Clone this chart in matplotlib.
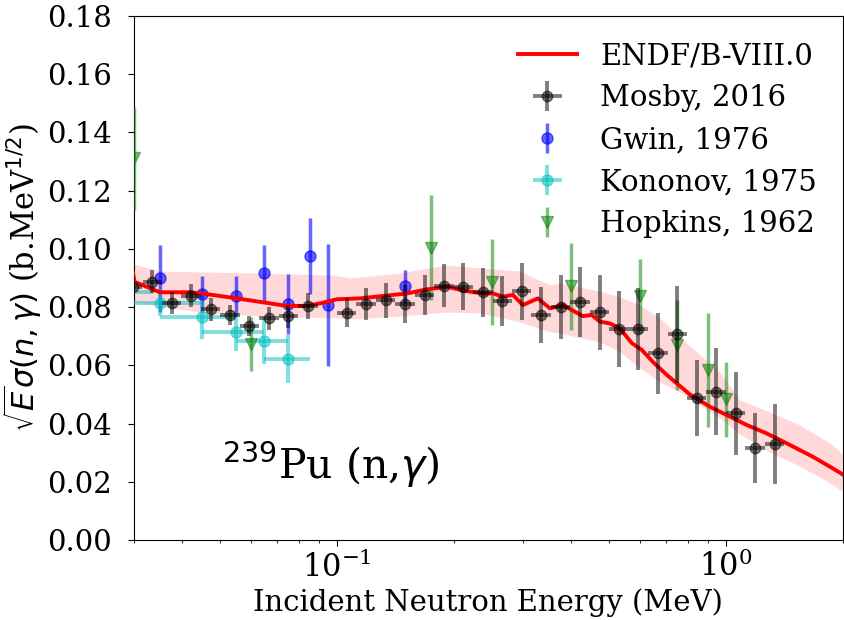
import matplotlib
matplotlib.use("Agg")
import matplotlib.pyplot as plt
import numpy as np

plt.rcParams.update(
    {
        "font.family": "DejaVu Serif",
        "font.size": 21,
        "xtick.labelsize": 22,
        "ytick.labelsize": 21,
        "legend.fontsize": 21,
    }
)

# ENDF/B-VIII.0 evaluation (sqrt(E) * sigma)
endf_energy = [0.0299, 0.03016, 0.03507, 0.04188, 0.04495, 0.0553, 0.07437, 0.08373,
               0.09203, 0.09998, 0.11455, 0.1513, 0.1702, 0.1917, 0.2133, 0.2372,
               0.2517, 0.2671, 0.2834, 0.3006, 0.3285, 0.3527, 0.3809, 0.4286,
               0.452, 0.4742, 0.5029, 0.5338, 0.5731, 0.6079, 0.649, 0.705,
               0.7478, 0.808, 0.9093, 1.0055, 1.1318, 1.2739, 1.4339, 1.6733,
               1.8834, 2.01]
endf_value = [0.0917, 0.0887, 0.0851, 0.0851, 0.0847, 0.0830, 0.0804, 0.0804,
              0.0815, 0.0827, 0.0830, 0.0847, 0.0861, 0.0870, 0.0856, 0.0847,
              0.0847, 0.0836, 0.0842, 0.0807, 0.0830, 0.0796, 0.0807, 0.0769,
              0.0773, 0.0750, 0.0744, 0.0727, 0.0676, 0.0653, 0.0612, 0.0567,
              0.0538, 0.0500, 0.0458, 0.0429, 0.0395, 0.0366, 0.0332, 0.0286,
              0.0246, 0.0223]

# uncertainty band
band_energy = [0.0299, 0.0351, 0.0444, 0.0634, 0.0988, 0.108, 0.1451, 0.1906,
               0.2331, 0.2954, 0.3527, 0.3742, 0.4742, 0.5338, 0.6009, 0.6763,
               0.7613, 0.857, 0.9649, 1.0861, 1.2972, 1.549, 1.85, 2.01]
band_upper = [0.0948, 0.0924, 0.0921, 0.0917, 0.0910, 0.0900, 0.0917, 0.0945,
              0.0934, 0.0924, 0.0876, 0.0883, 0.0855, 0.0835, 0.0807, 0.0763,
              0.0697, 0.0636, 0.0577, 0.0481, 0.0440, 0.0395, 0.0333, 0.0292]
band_lower = [0.0818, 0.0804, 0.0783, 0.0769, 0.0763, 0.0759, 0.0769, 0.0783,
              0.0780, 0.0749, 0.0715, 0.0711, 0.0680, 0.0646, 0.0591, 0.0543,
              0.0508, 0.0464, 0.0419, 0.0364, 0.0302, 0.0254, 0.0196, 0.0165]

# Mosby, 2016 (20 bins per decade)
mosby_energy = [0.02985, 0.0335, 0.03758, 0.04217, 0.04732, 0.05309, 0.05957, 0.06683,
                0.07499, 0.08414, 0.1059, 0.1189, 0.1334, 0.1496, 0.1679, 0.1884,
                0.2113, 0.2371, 0.2661, 0.2985, 0.335, 0.3758, 0.4217, 0.4732,
                0.5309, 0.5957, 0.6683, 0.7499, 0.8414, 0.9441, 1.0593, 1.1885,
                1.3335]
mosby_value = [0.0870, 0.0887, 0.0815, 0.0839, 0.0792, 0.0772, 0.0735, 0.0761,
               0.0769, 0.0804, 0.0781, 0.0811, 0.0824, 0.0811, 0.0842, 0.0874,
               0.0870, 0.0851, 0.0822, 0.0855, 0.0773, 0.0801, 0.0817, 0.0782,
               0.0725, 0.0725, 0.0641, 0.0707, 0.0487, 0.0509, 0.0435, 0.0317,
               0.0330]
mosby_error = [0.0040, 0.0040, 0.0038, 0.0040, 0.0038, 0.0035, 0.0035, 0.0040,
               0.0040, 0.0045, 0.0050, 0.0055, 0.0060, 0.0065, 0.0070, 0.0075,
               0.0080, 0.0084, 0.0086, 0.0098, 0.0096, 0.0110, 0.0120, 0.0128,
               0.0129, 0.0140, 0.0139, 0.0167, 0.0130, 0.0149, 0.0142, 0.0120,
               0.0136]
MOSBY_HALF_BIN_DECADES = 0.025

# Gwin, 1976
gwin_energy = [0.035, 0.045, 0.055, 0.065, 0.075, 0.085, 0.095, 0.15]
gwin_value = [0.0899, 0.0845, 0.0838, 0.0916, 0.0810, 0.0976, 0.0807, 0.0872]
gwin_error = [0.0115, 0.0062, 0.0070, 0.0097, 0.0103, 0.0130, 0.0210, 0.0057]

# Kononov, 1975
kononov_energy = [0.025, 0.035, 0.045, 0.055, 0.065, 0.075]
kononov_value = [0.0853, 0.0815, 0.0765, 0.0716, 0.0685, 0.0622]
kononov_energy_error = [0.0086, 0.01, 0.01, 0.01, 0.01, 0.01]
kononov_error = [0.0046, 0.0046, 0.0074, 0.0066, 0.0080, 0.0083]

# Hopkins, 1962
hopkins_energy = [0.03, 0.06, 0.175, 0.25, 0.40, 0.60, 0.75, 0.90, 1.0]
hopkins_value = [0.1311, 0.0672, 0.1004, 0.0887, 0.0872, 0.0838, 0.0670, 0.0584, 0.0483]
hopkins_error = [0.0178, 0.0093, 0.0181, 0.0147, 0.0149, 0.0127, 0.0153, 0.0196, 0.0128]


fig = plt.figure(figsize=(8.44, 6.2), dpi=100)
ax = fig.add_axes([0.1583, 0.129, 0.8405, 0.8452])

ax.fill_between(band_energy, band_lower, band_upper, color="red", alpha=0.15, linewidth=0)
ax.plot(endf_energy, endf_value, color="red", linewidth=2.8, label="ENDF/B-VIII.0", zorder=4)

mosby_e = np.array(mosby_energy)
mosby_xerr = [mosby_e * (1 - 10 ** -MOSBY_HALF_BIN_DECADES),
              mosby_e * (10 ** MOSBY_HALF_BIN_DECADES - 1)]
ax.errorbar(mosby_energy, mosby_value, yerr=mosby_error, xerr=mosby_xerr, fmt="o",
            color="k", alpha=0.5, markersize=7.5, elinewidth=2.8, label="Mosby, 2016", zorder=5)
ax.errorbar(gwin_energy, gwin_value, yerr=gwin_error, fmt="o", color="b", alpha=0.6,
            markersize=8, elinewidth=2.5, label="Gwin, 1976", zorder=3)
ax.errorbar(kononov_energy, kononov_value, yerr=kononov_error, xerr=kononov_energy_error,
            fmt="o", color="c", alpha=0.5, markersize=8, elinewidth=2.8,
            label="Kononov, 1975", zorder=3)
ax.errorbar(hopkins_energy, hopkins_value, yerr=hopkins_error, fmt="v", color="g",
            alpha=0.5, markersize=9, elinewidth=2.5, label="Hopkins, 1962", zorder=3)

ax.set_xscale("log")
ax.set_xlim(0.03, 2.0)
ax.set_ylim(0.0, 0.18)
ax.set_yticks(np.arange(0, 0.181, 0.02))
ax.tick_params(axis="both", which="major", length=4.5)
ax.tick_params(axis="y", pad=11)
ax.tick_params(axis="x", pad=3.5)
ax.set_xlabel("Incident Neutron Energy (MeV)", labelpad=3)
ax.set_ylabel(r"$\sqrt{E}\sigma(n,\gamma)$ (b.MeV$^{1/2}$)", fontsize=22)
ax.yaxis.set_label_coords(-0.126, 0.5)

ax.text(0.1246, 0.116, r"$^{239}$Pu (n,$\gamma$)", transform=ax.transAxes,
        fontsize=29.5, va="baseline", ha="left")

ax.legend(loc="upper right", frameon=False, labelspacing=0.48)

fig.savefig("out.png", dpi=100)
